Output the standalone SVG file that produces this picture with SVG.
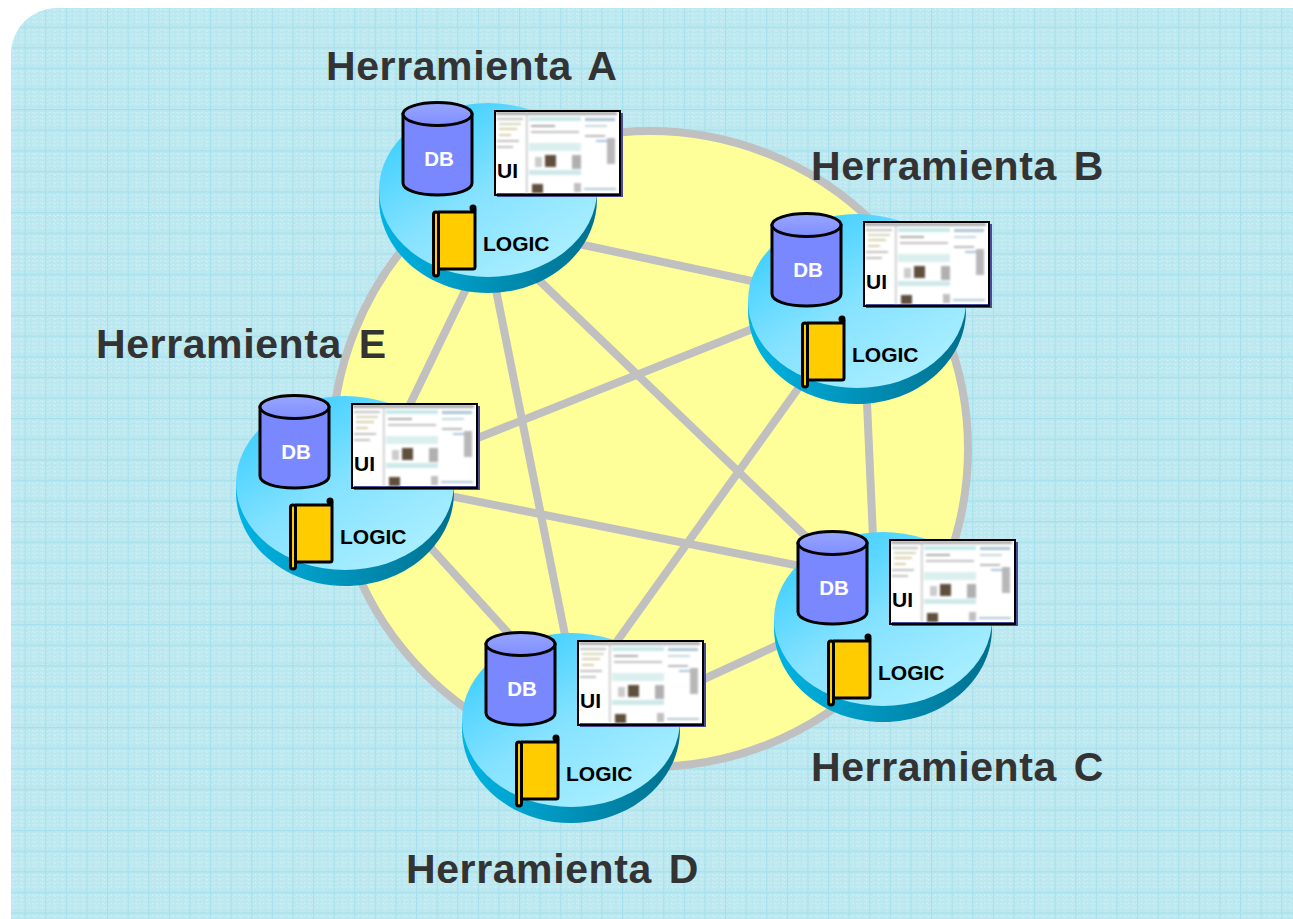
<svg xmlns="http://www.w3.org/2000/svg" width="1293" height="919" viewBox="0 0 1293 919">
<style>
.title{font:bold 41px "Liberation Sans",Arial,sans-serif;fill:#333;letter-spacing:.6px;word-spacing:5px}
.db{font:bold 20.5px "Liberation Sans",Arial,sans-serif;fill:#fff}
.ui{font:bold 21px "Liberation Sans",Arial,sans-serif;fill:#000}
.logic{font:bold 21px "Liberation Sans",Arial,sans-serif;fill:#000}
.link{stroke:#c0c0c0;stroke-width:8;fill:none}
</style>
<defs>
<pattern id="bg" patternUnits="userSpaceOnUse" x="4" y="6" width="20.6" height="20.6">
<rect width="20.6" height="20.6" fill="#bbe8f0"/>
<path d="M0 3.5H20.6M0 7.5H20.6M0 11.5H20.6M0 15.5H20.6M2 0V20.6M10 0V20.6M18 0V20.6" stroke="#e6f8fa" stroke-width="1" stroke-dasharray="1 3"/>
<path d="M0.500 0V20.6M0 0.500H20.6" stroke="#a6e0ec" stroke-width="1.3"/>
</pattern>
<linearGradient id="face" x1="0.1" y1="0.05" x2="0.75" y2="0.9">
<stop offset="0" stop-color="#33ccff"/><stop offset="0.55" stop-color="#85e2ff"/><stop offset="1" stop-color="#a6edff"/>
</linearGradient>
<linearGradient id="side" x1="0" y1="0" x2="1" y2="0">
<stop offset="0" stop-color="#00b4e4"/><stop offset="1" stop-color="#00708e"/>
</linearGradient>
<linearGradient id="dbtop" x1="0" y1="0" x2="0" y2="1">
<stop offset="0" stop-color="#98a6ff"/><stop offset="1" stop-color="#7f8eff"/>
</linearGradient>
<filter id="soft" x="-5%" y="-5%" width="110%" height="110%"><feGaussianBlur stdDeviation="1"/></filter>
<g id="shot">
<rect x="494" y="110" width="125" height="83" fill="#fff"/>
<g filter="url(#soft)">
<rect x="496" y="112" width="121" height="3" fill="#a8a8a8"/>
<rect x="497" y="118" width="26" height="2" fill="#c0c0c0"/>
<rect x="499" y="123" width="22" height="2" fill="#d4d4b8"/>
<rect x="499" y="128" width="18" height="2" fill="#d8cfa8"/>
<rect x="499" y="134" width="12" height="2" fill="#d8cfa8"/>
<rect x="497" y="140" width="22" height="2" fill="#c0c0c0"/>
<rect x="497" y="146" width="16" height="2" fill="#c0c0c0"/>
<rect x="526" y="113" width="1.500" height="80" fill="#c4c4c4"/>
<rect x="529" y="117" width="52" height="4" fill="#c8e8e8"/>
<rect x="531" y="125" width="24" height="2" fill="#aaaaaa"/>
<rect x="531" y="131" width="48" height="2" fill="#c0c0c0"/>
<rect x="529" y="143" width="52" height="8" fill="#dcefef"/>
<rect x="545" y="155" width="11" height="12" fill="#5e4f3c"/>
<rect x="535" y="157" width="7" height="10" fill="#cccccc"/>
<rect x="572" y="155" width="9" height="14" fill="#b0b0b0"/>
<rect x="529" y="170" width="52" height="5" fill="#cfe8e8"/>
<rect x="532" y="184" width="11" height="9" fill="#5e4f3c"/>
<rect x="574" y="183" width="7" height="9" fill="#c0c0c0"/>
<rect x="585" y="118" width="30" height="3" fill="#a9c4d6"/>
<rect x="585" y="125" width="22" height="2" fill="#c4d4de"/>
<rect x="585" y="135" width="20" height="2" fill="#b8b8b8"/>
<rect x="596" y="140" width="11" height="2" fill="#a9c4e0"/>
<rect x="607" y="138" width="8" height="26" fill="#b8b8b8"/>
<rect x="584" y="188" width="32" height="2" fill="#b0c8d0"/>
</g>
</g>
<g id="base">
<path d="M379 190V199C379 251 428 293 488 293S597 251 597 199V190Z" fill="url(#side)"/>
<ellipse cx="488" cy="191" rx="109" ry="87" fill="url(#face)" transform="translate(0,-1)"/>
<path d="M403 114V183C403 190 418 195 437.500 195S472 190 472 183V114Z" fill="#7a88ff" stroke="#000" stroke-width="3"/>
<ellipse cx="437.500" cy="114" rx="34.500" ry="11.500" fill="url(#dbtop)" stroke="#000" stroke-width="3"/>
<rect x="497" y="113" width="126" height="84" fill="#4a4a9a"/>
<use href="#shot"/>
<rect x="495" y="111" width="125" height="84" fill="none" stroke="#000" stroke-width="2"/>
<rect x="439" y="213" width="36" height="56" fill="#ffcc00"/>
<path d="M438 212H473V208M475 209V267Q475 269 473 269H439" fill="none" stroke="#000" stroke-width="3"/>
<circle cx="473" cy="208" r="3.500" fill="#000"/>
<rect x="433.500" y="212" width="5" height="64" rx="2.500" fill="#ffcc00" stroke="#000" stroke-width="3"/>
</g>
</defs>
<rect id="background" x="11" y="8" width="1330" height="960" rx="46" fill="url(#bg)"/>
<circle id="ring" cx="650" cy="449" r="318" fill="#ffff99" stroke="#c0c0c0" stroke-width="8"/>
<g id="connectors" class="link">
<path d="M560 240L780 287"/>
<path d="M520 262L820 550"/>
<path d="M490 260L570 660"/>
<path d="M480 260L400 425"/>
<path d="M780 318L460 445"/>
<path d="M815 365L600 665"/>
<path d="M866 380L874 560"/>
<path d="M800 635L680 690"/>
<path d="M430 492L830 572"/>
<path d="M410 525L510 635"/>
</g>
<g id="node-a"><use href="#base"/><text class="db" x="439" y="166" text-anchor="middle">DB</text><text class="ui" x="497" y="178">UI</text><text class="logic" x="483" y="251">LOGIC</text></g>
<g id="node-b" transform="translate(369,111)"><use href="#base"/><text class="db" x="439" y="166" text-anchor="middle">DB</text><text class="ui" x="497" y="178">UI</text><text class="logic" x="483" y="251">LOGIC</text></g>
<g id="node-c" transform="translate(395,429)"><use href="#base"/><text class="db" x="439" y="166" text-anchor="middle">DB</text><text class="ui" x="497" y="178">UI</text><text class="logic" x="483" y="251">LOGIC</text></g>
<g id="node-d" transform="translate(83,530)"><use href="#base"/><text class="db" x="439" y="166" text-anchor="middle">DB</text><text class="ui" x="497" y="178">UI</text><text class="logic" x="483" y="251">LOGIC</text></g>
<g id="node-e" transform="translate(-143,293)"><use href="#base"/><text class="db" x="439" y="166" text-anchor="middle">DB</text><text class="ui" x="497" y="178">UI</text><text class="logic" x="483" y="251">LOGIC</text></g>
<g id="labels">
<text class="title" x="326" y="80">Herramienta A</text>
<text class="title" x="811" y="180">Herramienta B</text>
<text class="title" x="96" y="358">Herramienta E</text>
<text class="title" x="811" y="781">Herramienta C</text>
<text class="title" x="406" y="883">Herramienta D</text>
</g>
</svg>
